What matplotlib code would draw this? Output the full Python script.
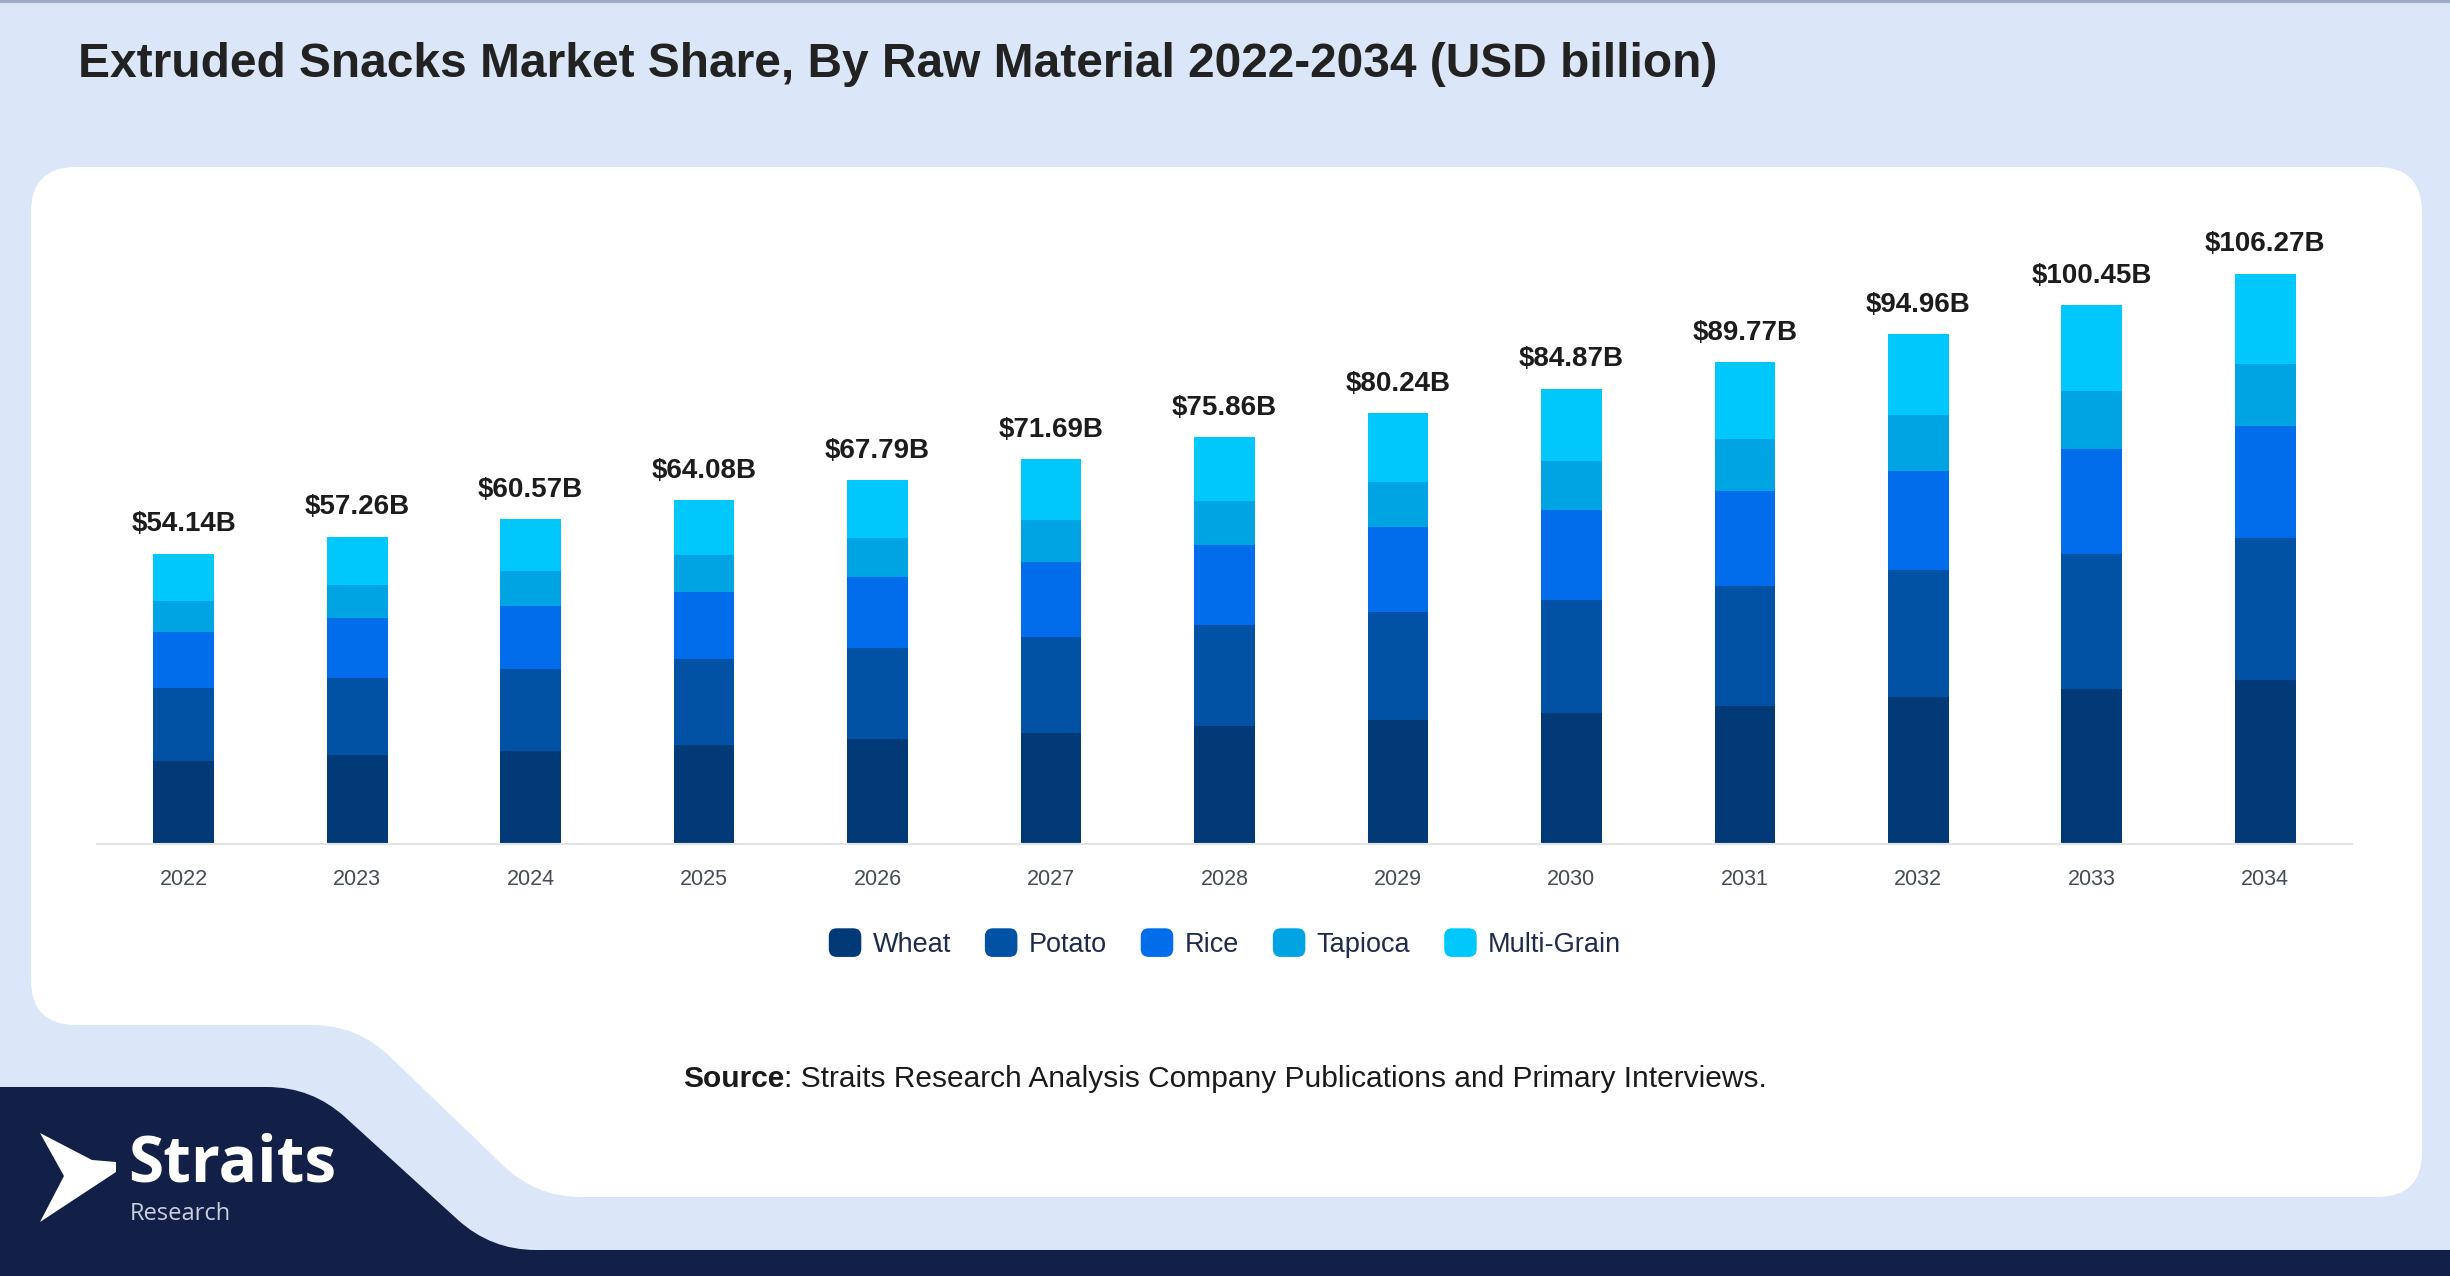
import numpy as np
import matplotlib
matplotlib.use('Agg')
import matplotlib.pyplot as plt
from matplotlib.path import Path
from matplotlib.patches import PathPatch, Patch, FancyBboxPatch, Polygon
from matplotlib.legend_handler import HandlerPatch

plt.rcParams['font.family'] = ['Liberation Sans', 'DejaVu Sans']

years = ['2022', '2023', '2024', '2025', '2026', '2027', '2028',
         '2029', '2030', '2031', '2032', '2033', '2034']
totals = [54.14, 57.26, 60.57, 64.08, 67.79, 71.69, 75.86,
          80.24, 84.87, 89.77, 94.96, 100.45, 106.27]
wheat = [15.46, 16.64, 17.39, 18.44, 19.55, 20.61, 22.04,
         23.11, 24.47, 25.70, 27.32, 28.93, 30.55]
potato = [13.52, 14.22, 15.22, 15.96, 16.89, 18.00, 18.81,
          20.12, 20.99, 22.46, 23.68, 25.05, 26.50]
rice = [10.61, 11.18, 11.80, 12.60, 13.22, 13.97, 14.90,
        15.76, 16.72, 17.70, 18.59, 19.64, 20.77]
tapioca = [5.76, 6.21, 6.52, 6.83, 7.33, 7.76, 8.07,
           8.48, 9.12, 9.62, 10.35, 10.83, 11.64]
multi_grain = [8.78, 9.01, 9.63, 10.25, 10.80, 11.36, 12.05,
               12.77, 13.57, 14.30, 15.03, 16.00, 16.81]

series = [('Wheat', wheat, '#023a78'),
          ('Potato', potato, '#0152a5'),
          ('Rice', rice, '#016dea'),
          ('Tapioca', tapioca, '#01a4e2'),
          ('Multi-Grain', multi_grain, '#00c8fd')]

W, H = 2450, 1276
BG = '#dbe7f8'
NAVY = '#121f47'


def rounded_path(pts, radii):
    # polygon with rounded corners (quadratic curves)
    verts, codes = [], []
    n = len(pts)
    for i in range(n):
        p0 = np.array(pts[i - 1], float)
        p1 = np.array(pts[i], float)
        p2 = np.array(pts[(i + 1) % n], float)
        d1, d2 = p0 - p1, p2 - p1
        l1, l2 = np.linalg.norm(d1), np.linalg.norm(d2)
        r = min(radii[i], l1 / 2, l2 / 2)
        a = p1 + d1 / l1 * r
        b = p1 + d2 / l2 * r
        verts.append(a)
        codes.append(Path.MOVETO if i == 0 else Path.LINETO)
        verts += [p1, b]
        codes += [Path.CURVE3, Path.CURVE3]
    verts.append(verts[0])
    codes.append(Path.CLOSEPOLY)
    return Path(verts, codes)


fig = plt.figure(figsize=(W / 100, H / 100), dpi=100, facecolor=BG)

# background decorations in pixel coordinates
bg = fig.add_axes([0, 0, 1, 1], zorder=0)
bg.set_xlim(0, W)
bg.set_ylim(H, 0)
bg.axis('off')
bg.plot([0, W], [1, 1], color='#9eabc8', lw=3)

card = rounded_path([(31, 167), (2422, 167), (2422, 1197), (536, 1197),
                     (357, 1025), (31, 1025)], [45, 45, 45, 45, 45, 45])
bg.add_patch(PathPatch(card, facecolor='white', edgecolor='none'))

navy = rounded_path([(0, 1087), (312, 1087), (491, 1250), (W, 1250),
                     (W, H), (0, H)], [0, 45, 45, 0, 0, 0])
bg.add_patch(PathPatch(navy, facecolor=NAVY, edgecolor='none'))

# logo
bg.add_patch(Polygon([(40, 1133), (92, 1160), (116, 1162), (116, 1172),
                      (40, 1222), (64, 1176)], closed=True,
                     facecolor='white', edgecolor='none'))
bg.text(128, 1182, 'Straits', fontsize=46, family='Open Sans',
        weight='bold', color='white', va='baseline')
bg.text(130, 1220, 'Research', fontsize=17, family='Open Sans',
        color='#c9d0de', va='baseline')

bg.text(78, 77, 'Extruded Snacks Market Share, By Raw Material 2022-2034 (USD billion)',
        fontsize=34.5, weight='bold', color='#222222', va='baseline')

# chart
ax = fig.add_axes([97 / W, 1 - 844 / H, (2352 - 97) / W, (844 - 200) / H], zorder=2)
ax.set_facecolor('none')
x = np.arange(len(years))
bottom = np.zeros(len(years))
for name, vals, color in series:
    ax.bar(x, vals, width=0.35, bottom=bottom, color=color, label=name)
    bottom += np.array(vals)

for i, t in enumerate(totals):
    ax.annotate(f'${t:.2f}B', (x[i], bottom[i]), xytext=(0, 16),
                textcoords='offset points', ha='center', va='baseline',
                fontsize=20, weight='bold', color='#1c1c1c')

ax.set_xlim(-0.5, len(years) - 0.5)
ax.set_ylim(0, 120)
ax.set_xticks(x, years)
ax.tick_params(axis='x', length=0, pad=18, labelsize=15.5, labelcolor='#454c57')
ax.set_yticks([])
for s in ['left', 'right', 'top']:
    ax.spines[s].set_visible(False)
ax.spines['bottom'].set_color('#e3e3e3')
ax.spines['bottom'].set_linewidth(1.5)


def round_box(legend, orig_handle, xdescent, ydescent, width, height, fontsize):
    return FancyBboxPatch((-xdescent, -ydescent), width, height,
                          boxstyle='round,pad=0,rounding_size=%f' % (height * 0.28))


handles = [Patch(facecolor=c) for _, _, c in series]
labels = [n for n, _, _ in series]
fig.legend(handles, labels, loc='center', bbox_to_anchor=(0.5, 1 - 943 / H),
           ncol=5, frameon=False, fontsize=19.5, handlelength=1.2,
           handleheight=1.25, handletextpad=0.42, columnspacing=1.25,
           labelcolor='#1f2b4b',
           handler_map={Patch: HandlerPatch(patch_func=round_box)})

# source line
t1 = bg.text(0, 1087, 'Source', fontsize=21.5, weight='bold', color='#1a1a1a', va='baseline')
t2 = bg.text(0, 1087, ': Straits Research Analysis Company Publications and Primary Interviews.',
             fontsize=21.5, color='#1a1a1a', va='baseline')
fig.canvas.draw()
r = fig.canvas.get_renderer()
w1 = t1.get_window_extent(r).width
w2 = t2.get_window_extent(r).width
x0 = W / 2 - (w1 + w2) / 2
t1.set_x(x0)
t2.set_x(x0 + w1)

fig.savefig('out.png', dpi=100, facecolor=BG)
